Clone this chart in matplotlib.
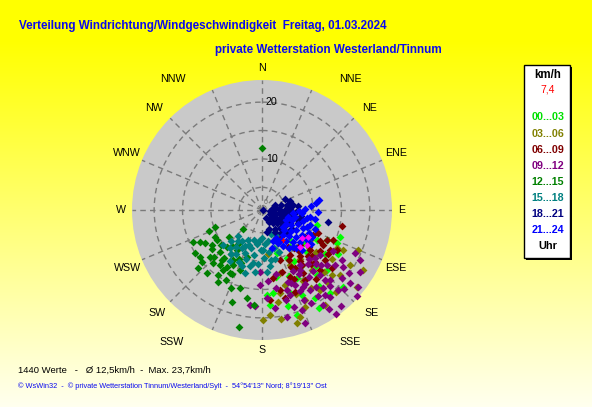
import numpy as np
import matplotlib
matplotlib.use('Agg')
import matplotlib.pyplot as plt
from matplotlib.patches import Rectangle
from matplotlib import font_manager

# ---------------- data (direction in degrees, speed in km/h) ----------------
pts_00_03 = [(109.1,15.5),(113.7,15.4),(118.6,12),(142.9,9.2),(152.8,14.5),(161.6,20.5),(161.4,16.4),
             (149,19.1),(140.7,19.9),(133.6,20.7),(132.7,16.6),(172.5,15.7),(175.2,17.8),(152.5,10.5),
             (133,11.8),(160.8,9),(176.6,16),(137,8.2),(114.8,13.6),(105,11),(145,13),(125,14.5),
             (155,17.5),(168,13),(128,10.5),(140,16),(148,11.5),(165,18.5),(130,13.2),(136,14.8),
             (143,17.8),(158,13.5),(120,16.5),(150,21)]
pts_03_06 = [(112.6,19.3),(120.7,21.7),(116.3,16.9),(116.9,15.8),(129,22.5),(162.8,21.8),(170,17.5),
             (175.6,19.5),(179.5,20.4),(160.4,21),(140.2,14.8),(137.9,18.1),(164,12.5),(153,11.9),
             (144,18.4),(154.5,18.6),(129.8,18.9),(163,14.8),(122,11),(172.4,8.9),(146.4,21.1),
             (122,19.3),(150,15.5),(135,16.5),(158,17),(142,12),(128,13),(168,16),(148,17.2),
             (156,19.8),(133,17.8),(125,16),(170,20.5),(138,20.5)]
pts_06_09 = [(101.3,15.4),(114.8,13.6),(112.3,11.7),(112.9,14.6),(120.5,14.9),(129.8,12),(144,13),
             (157.3,13.8),(165.4,17),(170.8,13.1),(175,16.9),(150.4,12.8),(136,15.7),(132.6,10.1),
             (148,10.3),(134.5,14.1),(160,10.4),(128.4,15.1),(148.4,15.5),(167.3,15.4),(146,6.7),
             (118,12.5),(125,13.5),(140,11.5),(138,13.8),(152,11),(155,14.5),(142,16.5),(125,11),
             (162,12.5),(118,16),(130,17),(145,9),(135,12.5),(158,16.5),(122,10),(128,11.5),
             (133,13),(138,10.8),(143,12.2),(147,14.3),(153,12.2),(120,13.5),(124,15),(116,11),
             (140,9.8)]
pts_09_12 = [(114.8,19),(117,20.4),(122.3,21.4),(128.7,22.7),(132.2,23.5),(136.5,20.4),(144.5,23.4),
             (140.5,23),(147.3,20.9),(159.2,22.3),(166.8,20.4),(172.4,18.4),(187.2,17.9),(184.2,18),
             (181.5,14.2),(181.8,11.9),(176.7,16.5),(152,16.4),(142,20.4),(129.7,21.1),(125.1,18.4),
             (122,17.6),(145.4,12.8),(138.3,16.3),(149,17.4),(135.8,18.2),(156,15.4),(132,13.6),
             (161.8,16.8),(143.5,19.6),(127,17.1),(150,14),(155,18.5),(160,14.5),(165,17.5),(170,15),
             (140,15),(135,14.5),(130,16),(145,17.5),(152,19.5),(158,20),(138,19),(148,13.5),
             (168,12.5),(175,13.5),(128,14),(120,15.5),(162,19),(146,22),(140,13.5),(145,15.5),
             (150,16),(155,16.8),(133,15.2),(138,17.5),(142,18.5),(147,19),(153,13),(158,14.8),
             (163,15.8),(136,13),(130,19.5),(134,21),(126,20)]
pts_12_15 = [(250,9.8),(248,11),(225,5.7),(243,13.3),(240,12.5),(235,11.7),(237,15),(233,14.7),
             (229,14.9),(223,13.7),(221,15.8),(214,14.8),(207,14.8),(212,12.8),(210,11.2),(200,12.3),
             (202,15.8),(196,15.3),(190,16.7),(198,18),(185,17.8),(191,22),(223,10),(212,9.3),
             (198,9.7),(225,11.5),(236,10.5),(228,13.3),(228,16.2),(219,12.3),(0,12),(215,10.5),
             (218,11.8),(205,10.5),(208,12),(220,9.2),(230,10.5),(232,12.2),(226,12.8),(213,13.5),
             (205,13.5),(202,11),(217,13.2),(245,14.5),(240,10.5),(230,8.5),(215,8.3),(211.4,15.8),
             (207,13.5)]
pts_15_18 = [(150,6),(155,7.5),(158,9),(160,5.5),(163,8),(165,10),(168,6.5),(170,8.5),(172,11),
             (175,7),(178,9.5),(180,6),(182,8),(184,10.5),(186,12),(188,7),(190,9),(192,11),
             (194,6.5),(196,8),(198,10),(200,7.5),(202,9.2),(204,11),(206,6.8),(208,8.5),(210,10),
             (212,7.5),(215,9),(218,8),(220,9.8),(222,7.2),(225,8.6),(228,10.2),(212,11.5),
             (195,12.5),(175,12),(101,5.7),(185,6.5),(190,10.5),(200,11.5),(205,8),(178,8),
             (170,10),(215,10.5)]
pts_18_21 = [(90,1.1),(80,3.5),(75,4.5),(78,5.5),(80,6.5),(84,7.3),(88,4),(90,5),(92,6),(94,7),
             (96,3),(100,4),(100,5.5),(103,6.5),(105,7.5),(108,3.5),(110,4.5),(112,5.5),(115,6.5),
             (118,3),(120,4),(122,5),(125,6),(128,7),(130,3.5),(132,4.5),(135,5.5),(138,3),(140,4),
             (145,5),(150,3.5),(155,2.5),(115,2.5),(100,2.5),(85,2.8),(72,6.2),(98,8),(110,7.8),
             (122,7.2),(100,12.8),(160,4.5),(167,5),(150,5.5),(140,6.2),(132,6.8),(65,5.5),(70,3.5),
             (95,4.5),(105,5),(118,5.8),(88,6),(108,6.2),(126,4.2)]
pts_21_24 = [(95,8),(98,9.5),(100,10.5),(102,7),(105,8.5),(107,9.8),(108,6.5),(110,11),(112,7.8),
             (114,9),(116,10.2),(118,6.8),(120,8),(122,9.3),(124,10.5),(126,7.3),(128,8.6),(130,9.8),
             (132,6.2),(134,7.6),(136,8.8),(138,10),(140,6.8),(142,8),(145,9.2),(148,7.2),(150,8.3),
             (153,6.5),(155,7.5),(85,9.6),(83,10.5),(80,11.2),(88,8.5),(92,10.8),(96,6.5),(104,5.8),
             (112,5.5),(120,5.8),(128,5.8),(160,6.8),(165,8),(110,9.5),(118,11),(125,11.5),
             (135,11),(140,9.5),(100,9),(92,7.5)]
pts_recent = [(120.4,10.4),(127.9,11),(134.2,10.3),(125,9.5)]
current_value = (145, 7.4)

group_labels = ['00...03', '03...06', '06...09', '09...12', '12...15', '15...18', '18...21', '21...24']
group_colors = ['#00ff00', '#808000', '#800000', '#800080', '#008000', '#008080', '#000080', '#0000ff']
group_points = [pts_00_03, pts_03_06, pts_06_09, pts_09_12, pts_12_15, pts_15_18, pts_18_21, pts_21_24]

directions = ['N', 'NNE', 'NE', 'ENE', 'E', 'ESE', 'SE', 'SSE',
              'S', 'SSW', 'SW', 'WSW', 'W', 'WNW', 'NW', 'NNW']
ring_values = [5, 10, 15, 20]
ring_labels = [10, 20]

title1 = 'Verteilung Windrichtung/Windgeschwindigkeit  Freitag, 01.03.2024'
title2 = 'private Wetterstation Westerland/Tinnum'
stats_text = '1440 Werte   -   \u00d8 12,5km/h  -  Max. 23,7km/h'
footer_text = ('\u00a9 WsWin32  -  \u00a9 private Wetterstation Tinnum/Westerland/Sylt  -  '
               "54\u00b054'13'' Nord; 8\u00b019'13'' Ost")
current_text = '7,4'

# ---------------- fonts ----------------
names = {f.name for f in font_manager.fontManager.ttflist}
BASE = 'Liberation Sans' if 'Liberation Sans' in names else 'DejaVu Sans'
NARROW = 'Liberation Sans Narrow' if 'Liberation Sans Narrow' in names else None
plt.rcParams['font.family'] = [BASE, 'DejaVu Sans']

W, H = 592, 407
fig = plt.figure(figsize=(W / 100, H / 100), dpi=100)
fig.patch.set_facecolor('#ffff00')

def fx(px):
    return px / W

def fy(py):
    return 1 - py / H

# background gradient
bg = fig.add_axes([0, 0, 1, 1], zorder=-10)
yy = np.arange(H)
blue = np.clip((yy - 40) / (H - 40), 0, 1) * 0.94
img = np.ones((H, 1, 3))
img[:, 0, 2] = blue
bg.imshow(img, aspect='auto', extent=[0, 1, 0, 1], interpolation='bilinear')
bg.set_axis_off()

# polar plot
cx, cy, R = 262, 210, 130
ax = fig.add_axes([fx(cx - R), fy(cy + R), 2 * R / W, 2 * R / H], projection='polar')
ax.set_theta_zero_location('N')
ax.set_theta_direction(-1)
ax.set_ylim(1, 23.9)
ax.set_facecolor('#c9c9c9')
ax.spines['polar'].set_visible(False)
ax.set_thetagrids(np.arange(0, 360, 22.5), labels=[''] * 16)
ax.set_rgrids(ring_values, labels=[''] * len(ring_values))
ax.tick_params(pad=0)
ax.grid(True, color='#7a7a7a', linestyle=(0, (4, 3)), linewidth=1.0)

for pts, col in zip(group_points, group_colors):
    d = np.deg2rad([p[0] for p in pts])
    s = [p[1] for p in pts]
    ax.scatter(d, s, marker='D', s=16, c=col, linewidths=0, zorder=3, clip_on=False)
ax.scatter(np.deg2rad([p[0] for p in pts_recent]), [p[1] for p in pts_recent],
           marker='D', s=12, c='#ff00ff', linewidths=0, zorder=4)
ax.scatter([np.deg2rad(current_value[0])], [current_value[1]], marker='+', s=10,
           c='#ff0000', linewidths=1, zorder=5)

for v in ring_labels:
    ax.annotate(str(v), xy=(0, v), xytext=(4, 0), textcoords='offset pixels',
                ha='left', va='center', fontsize=7.7, color='black', zorder=6)
ax.annotate('0', xy=(0, 1), xytext=(2, 8), textcoords='offset pixels',
            ha='left', va='center', fontsize=5, color='#707070', zorder=6)

# direction labels (pixel offsets from centre, layout only)
label_offsets = [(0, -142), (88, -131), (108, -102), (134, -57), (140, 0), (134, 58),
                 (110, 103), (88, 132), (0, 140), (-90, 132), (-105, 103), (-134, 58),
                 (-141, 0), (-135, -57), (-108, -102), (-89, -131)]
for name, (dx, dy) in zip(directions, label_offsets):
    fig.text(fx(cx + dx), fy(cy + dy), name, ha='center', va='center',
             fontsize=7.7, color='black')

# titles
tcol = '#0a0aee'
fig.text(fx(19), fy(29.5), title1, ha='left', va='baseline', fontsize=8.4,
         fontweight='bold', color=tcol)
fig.text(fx(215), fy(53.5), title2, ha='left', va='baseline', fontsize=8.4,
         fontweight='bold', color=tcol)

# bottom texts
if NARROW:
    fig.text(fx(18), fy(372.5), stats_text, ha='left', va='baseline', fontsize=8.3,
             family=[NARROW, 'DejaVu Sans'], color='black')
    fig.text(fx(18), fy(388), footer_text, ha='left', va='baseline', fontsize=6.5,
             family=[NARROW, 'DejaVu Sans'], color=tcol)
else:
    fig.text(fx(18), fy(372.5), stats_text, ha='left', va='baseline', fontsize=6.8,
             color='black')
    fig.text(fx(18), fy(388), footer_text, ha='left', va='baseline', fontsize=5.3,
             color=tcol)

# legend box
lx0, ly0, lx1, ly1 = 524, 65, 570, 258
fig.patches.append(Rectangle((fx(lx0 + 2), fy(ly1 + 2)), fx(lx1 - lx0), (ly1 - ly0) / H,
                             transform=fig.transFigure, facecolor='black', edgecolor='none',
                             zorder=1))
fig.patches.append(Rectangle((fx(lx0), fy(ly1)), fx(lx1 - lx0), (ly1 - ly0) / H,
                             transform=fig.transFigure, facecolor='white', edgecolor='black',
                             linewidth=1, zorder=2))
lcx = 548
fig.text(fx(lcx), fy(75.5), 'km/h', ha='center', va='center', fontsize=8.3,
         fontweight='bold', color='black', zorder=3)
fig.text(fx(lcx), fy(89.5), current_text, ha='center', va='center', fontsize=7.5,
         color='#ff0000', zorder=3)
leg_y = [117, 134, 150, 166, 182, 198, 214, 230]
for lab, col, yv in zip(group_labels, group_colors, leg_y):
    c = '#00e000' if col == '#00ff00' else col
    fig.text(fx(lcx), fy(yv), lab, ha='center', va='center', fontsize=7.7,
             fontweight='bold', color=c, zorder=3)
fig.text(fx(lcx), fy(246), 'Uhr', ha='center', va='center', fontsize=7.9,
         fontweight='bold', color='black', zorder=3)

fig.savefig('out.png', dpi=100)
